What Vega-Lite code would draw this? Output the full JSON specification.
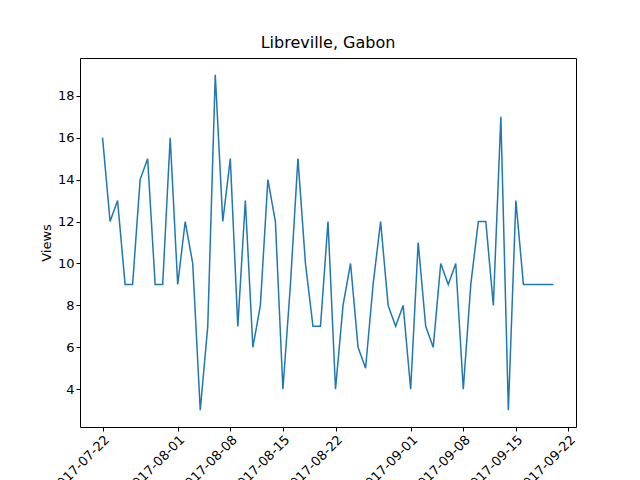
{
  "$schema": "https://vega.github.io/schema/vega-lite/v6.json",
  "width": 496,
  "height": 369,
  "autosize": "none",
  "padding": {"left": 80, "top": 58, "right": 64, "bottom": 53},
  "background": "white",
  "title": {"text": "Libreville, Gabon", "fontSize": 16, "fontWeight": "normal", "font": "DejaVu Sans", "offset": 7},
  "data": {
    "values": [
      {"date": "2017-07-22", "views": 16}, {"date": "2017-07-23", "views": 12}, {"date": "2017-07-24", "views": 13},
      {"date": "2017-07-25", "views": 9}, {"date": "2017-07-26", "views": 9}, {"date": "2017-07-27", "views": 14},
      {"date": "2017-07-28", "views": 15}, {"date": "2017-07-29", "views": 9}, {"date": "2017-07-30", "views": 9},
      {"date": "2017-07-31", "views": 16}, {"date": "2017-08-01", "views": 9}, {"date": "2017-08-02", "views": 12},
      {"date": "2017-08-03", "views": 10}, {"date": "2017-08-04", "views": 3}, {"date": "2017-08-05", "views": 7},
      {"date": "2017-08-06", "views": 19}, {"date": "2017-08-07", "views": 12}, {"date": "2017-08-08", "views": 15},
      {"date": "2017-08-09", "views": 7}, {"date": "2017-08-10", "views": 13}, {"date": "2017-08-11", "views": 6},
      {"date": "2017-08-12", "views": 8}, {"date": "2017-08-13", "views": 14}, {"date": "2017-08-14", "views": 12},
      {"date": "2017-08-15", "views": 4}, {"date": "2017-08-16", "views": 9}, {"date": "2017-08-17", "views": 15},
      {"date": "2017-08-18", "views": 10}, {"date": "2017-08-19", "views": 7}, {"date": "2017-08-20", "views": 7},
      {"date": "2017-08-21", "views": 12}, {"date": "2017-08-22", "views": 4}, {"date": "2017-08-23", "views": 8},
      {"date": "2017-08-24", "views": 10}, {"date": "2017-08-25", "views": 6}, {"date": "2017-08-26", "views": 5},
      {"date": "2017-08-27", "views": 9}, {"date": "2017-08-28", "views": 12}, {"date": "2017-08-29", "views": 8},
      {"date": "2017-08-30", "views": 7}, {"date": "2017-08-31", "views": 8}, {"date": "2017-09-01", "views": 4},
      {"date": "2017-09-02", "views": 11}, {"date": "2017-09-03", "views": 7}, {"date": "2017-09-04", "views": 6},
      {"date": "2017-09-05", "views": 10}, {"date": "2017-09-06", "views": 9}, {"date": "2017-09-07", "views": 10},
      {"date": "2017-09-08", "views": 4}, {"date": "2017-09-09", "views": 9}, {"date": "2017-09-10", "views": 12},
      {"date": "2017-09-11", "views": 12}, {"date": "2017-09-12", "views": 8}, {"date": "2017-09-13", "views": 17},
      {"date": "2017-09-14", "views": 3}, {"date": "2017-09-15", "views": 13}, {"date": "2017-09-16", "views": 9},
      {"date": "2017-09-17", "views": 9}, {"date": "2017-09-18", "views": 9}, {"date": "2017-09-19", "views": 9},
      {"date": "2017-09-20", "views": 9}
    ]
  },
  "mark": {"type": "line", "color": "#1f77b4", "strokeWidth": 1.5},
  "encoding": {
    "x": {
      "field": "date",
      "type": "temporal",
      "scale": {"type": "utc", "domain": [{"year": 2017, "month": 7, "date": 19, "utc": true}, {"year": 2017, "month": 9, "date": 23, "utc": true}]},
      "axis": {
        "title": null,
        "labelExpr": "utcFormat(datum.value, '%Y-%m-%d')",
        "values": [
          {"year": 2017, "month": 7, "date": 22, "utc": true},
          {"year": 2017, "month": 8, "date": 1, "utc": true},
          {"year": 2017, "month": 8, "date": 8, "utc": true},
          {"year": 2017, "month": 8, "date": 15, "utc": true},
          {"year": 2017, "month": 8, "date": 22, "utc": true},
          {"year": 2017, "month": 9, "date": 1, "utc": true},
          {"year": 2017, "month": 9, "date": 8, "utc": true},
          {"year": 2017, "month": 9, "date": 15, "utc": true},
          {"year": 2017, "month": 9, "date": 22, "utc": true}
        ],
        "labelAngle": -45,
        "labelAlign": "right",
        "labelBaseline": "top",
        "labelFlush": false,
        "labelOverlap": false
      }
    },
    "y": {
      "field": "views",
      "type": "quantitative",
      "title": "Views",
      "scale": {"domain": [2.2, 19.8], "nice": false, "zero": false},
      "axis": {"values": [4, 6, 8, 10, 12, 14, 16, 18]}
    }
  },
  "config": {
    "font": "DejaVu Sans",
    "view": {"stroke": "black", "strokeWidth": 1},
    "axis": {
      "grid": false,
      "domain": false,
      "tickColor": "black",
      "tickSize": 4,
      "labelColor": "black",
      "labelFontSize": 13,
      "labelFont": "DejaVu Sans",
      "titleFont": "DejaVu Sans",
      "titleFontSize": 13,
      "titleFontWeight": "normal",
      "titleColor": "black"
    }
  }
}
